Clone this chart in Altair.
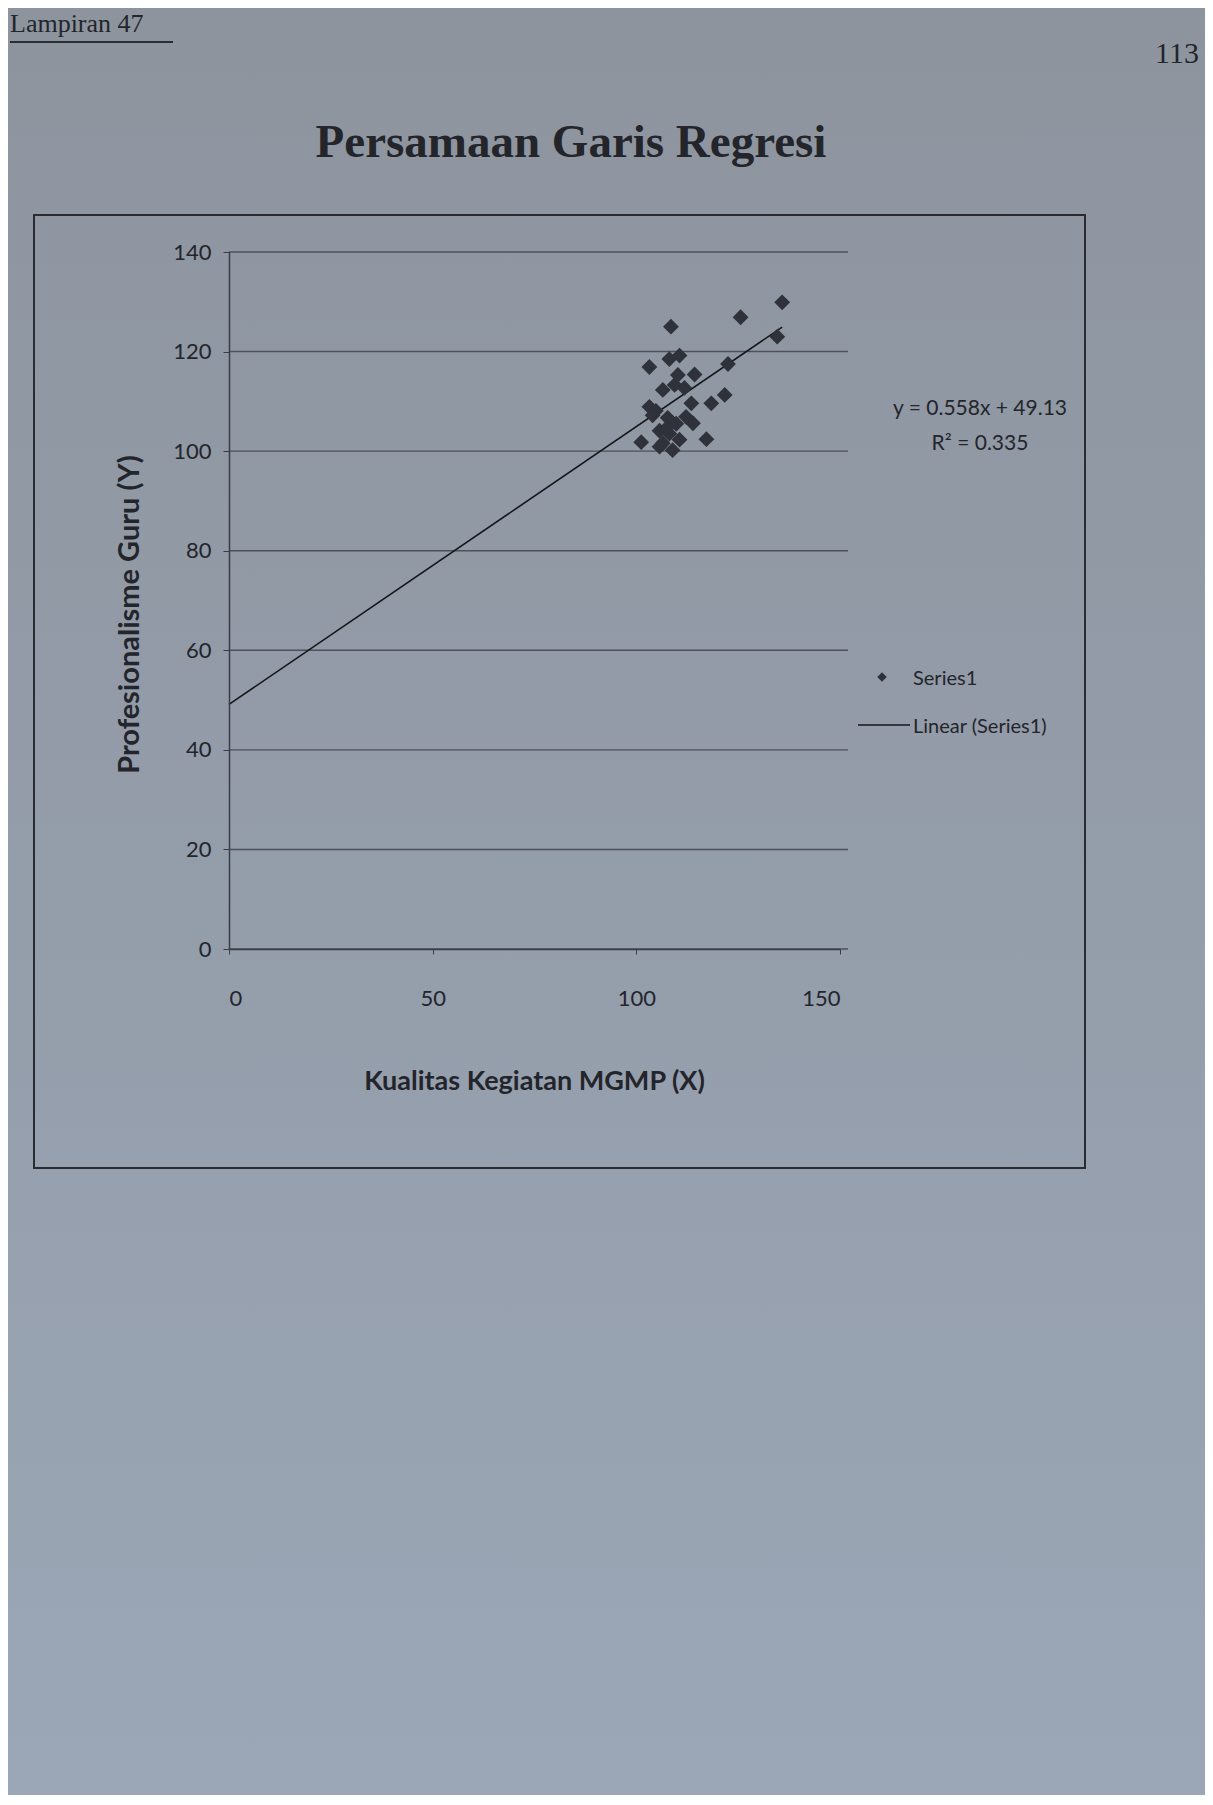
import altair as alt
import pandas as pd

# ---- data ----
x_vals = [108.5, 125.6, 135.8, 134.6, 103.2, 108.1, 110.6, 122.5, 114.3, 109.4,
          111.8, 103.2, 113.5, 118.4, 121.7, 107.7, 109.8, 113.9, 105.7, 101.2,
          106.5, 117.2, 104.8, 108.1, 110.6, 105.7, 112.2, 110.2, 106.5, 107.3,
          104.0, 108.9]
y_vals = [125.0, 126.9, 129.9, 123.0, 116.9, 118.5, 119.2, 117.5, 115.4, 113.3,
          112.7, 108.9, 109.6, 109.6, 111.3, 106.7, 105.5, 105.6, 104.1, 101.8,
          101.6, 102.4, 108.1, 103.5, 102.3, 100.9, 106.9, 115.3, 112.3, 104.5,
          107.2, 100.2]
slope = 0.558
intercept = 49.13
line_x = [0, 135.8]
y_ticks = [0, 20, 40, 60, 80, 100, 120, 140]
x_ticks = [0, 50, 100, 150]

title_text = "Persamaan Garis Regresi"
x_title = "Kualitas Kegiatan MGMP (X)"
y_title = "Profesionalisme Guru  (Y)"
eq_text = "y = 0.558x + 49.13"
r2_text = "R² = 0.335"
legend_labels = ["Series1", "Linear (Series1)"]

W, H = 611, 697
PL, PT, PR, PB = 221, 244, 365, 846

pts = pd.DataFrame({"x": x_vals, "y": y_vals})
line_df = pd.DataFrame({"x": line_x})
grid_df = pd.DataFrame({"y": y_ticks})
one = pd.DataFrame({"a": [0]})

xscale = alt.Scale(domain=[0, 150], nice=False, zero=False)
yscale = alt.Scale(domain=[0, 140], nice=False, zero=False)

INK = "#23252b"
FONT = "Lato"

xaxis = alt.Axis(values=x_ticks, grid=False, domainColor="#3a3d44", domainWidth=1.5,
                 tickColor="#3a3d44", tickSize=5, labelFont=FONT, labelFontSize=22,
                 labelColor=INK, labelPadding=34, title=x_title, titleFont=FONT,
                 titleFontSize=27, titleFontWeight="bold", titleColor=INK,
                 titleX=305, titleY=140, titleAlign="center", titleBaseline="alphabetic",
                 zindex=1)
yaxis = alt.Axis(values=y_ticks, grid=False, domainColor="#3a3d44", domainWidth=1.5,
                 tickColor="#3a3d44", tickSize=6, labelFont=FONT, labelFontSize=22,
                 labelColor=INK, labelPadding=12, title=y_title, titleFont=FONT,
                 titleFontSize=29, titleFontWeight="bold", titleColor=INK,
                 titleX=-100, titleY=362, titleAngle=270, titleAlign="center",
                 titleBaseline="middle", zindex=1)

bg = alt.Chart(one).mark_rect(
    color=alt.LinearGradient(
        gradient="linear",
        stops=[alt.GradientStop(color="#8d949e", offset=0),
               alt.GradientStop(color="#949daa", offset=0.5),
               alt.GradientStop(color="#9ba7b7", offset=1)],
        x1=0, x2=0, y1=0, y2=1)
).encode(x=alt.value(-PL), x2=alt.value(W + PR), y=alt.value(-PT), y2=alt.value(H + PB))

box = alt.Chart(one).mark_rect(fillOpacity=0, stroke="#2a2c32", strokeWidth=2).encode(
    x=alt.value(-195), x2=alt.value(856), y=alt.value(-37), y2=alt.value(916))

grid = alt.Chart(grid_df).mark_rule(color="#4c515b", strokeWidth=1.4).encode(
    y=alt.Y("y:Q", scale=yscale, axis=yaxis), x=alt.value(0), x2=alt.value(W + 8))

reg = alt.Chart(line_df).transform_calculate(
    yy=f"{slope} * datum.x + {intercept}"
).mark_line(color="#15161a", strokeWidth=1.6).encode(
    x=alt.X("x:Q", scale=xscale, axis=xaxis), y=alt.Y("yy:Q", scale=yscale))

scatter = alt.Chart(pts).mark_point(shape="diamond", filled=True, size=250,
                                    color="#2f323a", opacity=1).encode(
    x=alt.X("x:Q", scale=xscale), y=alt.Y("y:Q", scale=yscale))

def txt(text, x, y, size, align="left", font=FONT, weight="normal", baseline="alphabetic"):
    return alt.Chart(one).mark_text(text=text, font=font, fontSize=size, fontWeight=weight,
                                    align=align, baseline=baseline, color=INK).encode(
        x=alt.value(x), y=alt.value(y))

title = txt(title_text, 342, -95, 47, align="center", font="Liberation Serif", weight="bold")
lamp = txt("Lampiran 47", -219, -220, 26, font="Liberation Serif")
lamp_line = alt.Chart(one).mark_rule(color="#2a2c32", strokeWidth=2).encode(
    x=alt.value(-219), x2=alt.value(-56), y=alt.value(-210))
page = txt("113", 926, -189, 30, font="Liberation Serif")
eq = txt(eq_text, 751, 163, 21, align="center")
r2 = txt(r2_text, 751, 198, 21, align="center")

leg_pt = alt.Chart(one).mark_point(shape="diamond", filled=True, size=90,
                                   color="#2f323a", opacity=1).encode(
    x=alt.value(653), y=alt.value(425))
leg_t1 = txt(legend_labels[0], 684, 433, 20)
leg_line = alt.Chart(one).mark_rule(color="#15161a", strokeWidth=1.6).encode(
    x=alt.value(629), x2=alt.value(681), y=alt.value(473))
leg_t2 = txt(legend_labels[1], 684, 481, 20)

chart = alt.layer(
    bg, box, grid, reg, scatter, title, lamp, lamp_line, page, eq, r2,
    leg_pt, leg_t1, leg_line, leg_t2
).properties(
    width=W, height=H,
    autosize=alt.AutoSizeParams(type="none"),
    padding={"left": PL, "top": PT, "right": PR, "bottom": PB},
).configure_view(stroke=None).configure(background="#939ba6")

chart.save("out.html", embed_options={"renderer": "svg", "actions": False})
